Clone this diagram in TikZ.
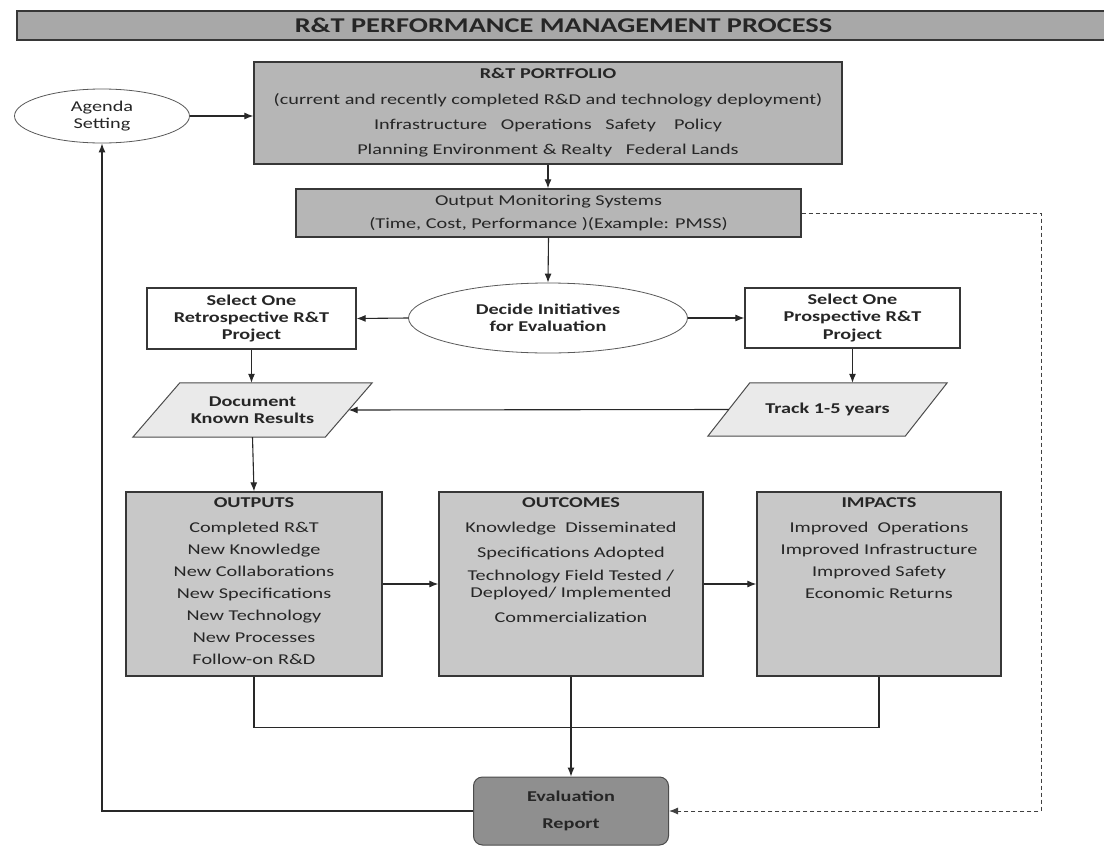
\documentclass[tikz,border=0pt]{standalone}
\usepackage{fontspec}
\setmainfont{Carlito}[FakeStretch=1.35]
\usetikzlibrary{arrows.meta,shapes.geometric,backgrounds}
\definecolor{titlefill}{RGB}{168,168,168}
\definecolor{boxfill}{RGB}{182,182,182}
\definecolor{outfill}{RGB}{200,200,200}
\definecolor{evalfill}{RGB}{143,143,143}
\definecolor{parafill}{RGB}{234,234,234}
\definecolor{bordc}{RGB}{55,55,55}
\definecolor{linec}{RGB}{40,40,40}
\begin{document}
\begin{tikzpicture}[x=1pt,y=-1pt,
  every node/.style={font=\fontsize{15}{17}\selectfont, inner sep=0pt, align=center, text=black!85},
  titlebar/.style={draw=bordc, line width=1.6pt, fill=titlefill, font=\fontsize{21}{24}\selectfont\bfseries},
  graybox/.style={draw=bordc, line width=1.3pt, fill=boxfill},
  resbox/.style={draw=bordc, line width=1.3pt, fill=outfill, minimum height=184pt},
  whitebox/.style={draw=bordc, line width=1.2pt, fill=white, font=\fontsize{15}{17.5}\selectfont\bfseries},
  oval/.style={ellipse, draw=black!65, line width=0.8pt, fill=white},
  paratext/.style={font=\fontsize{15}{17}\selectfont\bfseries, minimum height=54pt},
  parashape/.style={draw=black!70, line width=1pt, fill=parafill},
  evalbox/.style={draw=black!70, line width=1pt, fill=evalfill, rounded corners=9pt, font=\fontsize{15}{27}\selectfont\bfseries},
  conn/.style={draw=linec, line width=1.1pt, -{Latex[length=9pt,width=7pt]}},
  plainline/.style={draw=linec, line width=1.1pt},
  dashline/.style={draw=black!75, line width=1pt, dash pattern=on 4pt off 3pt, -{Latex[length=9pt,width=7pt]}},
]
\clip (0,0) rectangle (1104,846);

% title
\node[titlebar, minimum width=1093pt, minimum height=29pt] (title) at (563.5,25.5) {R\&T PERFORMANCE MANAGEMENT PROCESS};

% top row
\node[oval, minimum width=175pt, minimum height=54pt] (agenda) at (102,116) {Agenda\\Setting};
\node[graybox, minimum width=588pt, minimum height=102pt, font=\fontsize{15}{25}\selectfont] (portfolio) at (548,113)
  {{\bfseries R\&T PORTFOLIO}\\[1pt]
   (current and recently completed R\&D and technology deployment)\\
   Infrastructure\ \ \ Operations\ \ \ Safety\ \ \ \ Policy\\
   Planning Environment \& Realty\ \ \ Federal Lands};
\node[graybox, minimum width=505pt, minimum height=48pt, font=\fontsize{15}{23}\selectfont] (monitor) at (548.5,213)
  {Output Monitoring Systems\\(Time, Cost, Performance )(Example: PMSS)};

% decision row
\node[oval, minimum width=279pt, minimum height=70pt, font=\fontsize{15}{17}\selectfont\bfseries] (decide) at (548,318) {Decide Initiatives\\for Evaluation};
\node[whitebox, minimum width=209pt, minimum height=61pt] (retro) at (251.5,318.5) {Select One\\Retrospective R\&T\\Project};
\node[whitebox, minimum width=215pt, minimum height=60pt] (prosp) at (852.5,318) {Select One\\Prospective R\&T\\Project};

% parallelograms (text nodes, outlines drawn behind)
\node[paratext, minimum width=192pt] (doc) at (252.5,410) {Document\\Known Results};
\node[paratext, minimum width=197pt, minimum height=53pt] (track) at (827.5,409.5) {Track 1-5 years};
\begin{pgfonlayer}{background}
\fill[white] (0,0) rectangle (1104,846);
\draw[parashape] ([xshift=23.5pt]doc.north west) -- ([xshift=23.5pt]doc.north east) -- ([xshift=-23.5pt]doc.south east) -- ([xshift=-23.5pt]doc.south west) -- cycle;
\draw[parashape] ([xshift=21pt]track.north west) -- ([xshift=21pt]track.north east) -- ([xshift=-21pt]track.south east) -- ([xshift=-21pt]track.south west) -- cycle;
\end{pgfonlayer}

% result boxes
\node[resbox, minimum width=256pt] (outputs) at (254,584)
  {\parbox[c][172pt][t]{250pt}{\centering\fontsize{15}{22}\selectfont
   {\bfseries OUTPUTS}\\[3pt]
   Completed R\&T\\ New Knowledge\\ New Collaborations\\ New Specifications\\ New Technology\\ New Processes\\ Follow-on R\&D}};
\node[resbox, minimum width=264pt] (outcomes) at (571,584)
  {\parbox[c][172pt][t]{258pt}{\centering\fontsize{15}{17}\selectfont
   {\bfseries OUTCOMES}\\[8pt]
   Knowledge\ \ Disseminated\\[8pt] Specifications Adopted\\[6pt] Technology Field Tested /\\ Deployed/ Implemented\\[8pt] Commercialization}};
\node[resbox, minimum width=244pt] (impacts) at (879,584)
  {\parbox[c][172pt][t]{238pt}{\centering\fontsize{15}{22}\selectfont
   {\bfseries IMPACTS}\\[3pt]
   Improved\ \ Operations\\ Improved Infrastructure\\ Improved Safety\\ Economic Returns}};

% evaluation report
\node[evalbox, minimum width=195pt, minimum height=68pt] (eval) at (571,811) {Evaluation\\Report};

% connectors
\draw[conn] (agenda.east) -- (agenda.east -| portfolio.west);
\draw[conn] (portfolio.south) -- (portfolio.south |- monitor.north);
\draw[conn] (monitor.south) -- (decide.north);
\draw[conn] (decide.west) -- (retro.east);
\draw[conn] (decide.east) -- (prosp.west);
\draw[conn] (retro.south) -- (retro.south |- doc.north);
\draw[conn] (prosp.south) -- (prosp.south |- track.north);
\draw[conn] (track.west) -- (doc.east);
\draw[conn] (doc.south) -- (outputs.north);
\draw[conn] (outputs.east) -- (outcomes.west);
\draw[conn] (outcomes.east) -- (impacts.west);
\draw[plainline] (outputs.south) -- ++(0,51) -| (impacts.south);
\draw[conn] (outcomes.south) -- (eval.north);
\draw[conn] (eval.west) -| (agenda.south);
\coordinate (dashR) at (1041,0);
\draw[dashline] (monitor.east) -- (monitor.east -| dashR) -- (eval.east -| dashR) -- (eval.east);
\end{tikzpicture}
\end{document}
